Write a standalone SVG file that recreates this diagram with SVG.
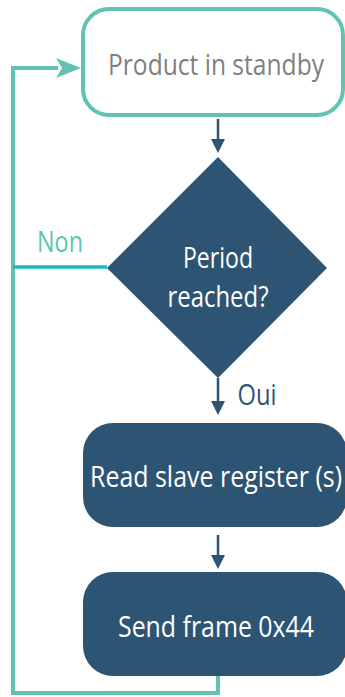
<svg xmlns="http://www.w3.org/2000/svg" width="345" height="697" viewBox="0 0 345 697">
<style>
text{font-family:"Open Sans","Liberation Sans",sans-serif;font-size:29px;text-anchor:middle}
.w{fill:#ffffff}
.dark{fill:#2e5474}
.t{stroke:#62c3b4;stroke-width:4;fill:none}
.d{stroke:#2e5474;stroke-width:2.5;fill:none}
</style>
<defs>
<marker id="ad" viewBox="0 0 10 10" refX="10" refY="5" markerWidth="5" markerHeight="5" markerUnits="userSpaceOnUse" orient="auto"><path d="M0,0 L10,5 L0,10 z" fill="#2e5474"/></marker>
</defs>
<g id="connectors">
<path class="t" d="M218,676 V693 H13 V68 H58"/>
<path d="M56,58 L81,68 L56,78 L62,68 z" fill="#62c3b4"/>
<path d="M13,267 H107" stroke="#13bcc0" stroke-width="3.5" fill="none"/>
<path class="d" d="M218,119 V140"/>
<path d="M211,139 L218,153 L225,139 z" fill="#2e5474"/>
<path class="d" d="M218,378 V402"/>
<path d="M211,401 L218,415 L225,401 z" fill="#2e5474"/>
<path class="d" d="M218,535 V556"/>
<path d="M211,555 L218,569 L225,555 z" fill="#2e5474"/>
<text x="60" y="252" fill="#5cc4b4" textLength="46" lengthAdjust="spacingAndGlyphs">Non</text>
<text x="257" y="405" class="dark" textLength="39" lengthAdjust="spacingAndGlyphs">Oui</text>
</g>
<g id="standby">
<rect x="83" y="9" width="260" height="106" rx="26" fill="#fff" stroke="#62c3b4" stroke-width="4"/>
<text x="216" y="75" fill="#808080" textLength="216" lengthAdjust="spacingAndGlyphs">Product in standby</text>
</g>
<g id="decision">
<path d="M218,157 L327,268 L218,378 L107,268 z" fill="#2e5474"/>
<text x="218" y="268" class="w" textLength="70" lengthAdjust="spacingAndGlyphs">Period</text>
<text x="218" y="307" class="w" textLength="101" lengthAdjust="spacingAndGlyphs">reached?</text>
</g>
<g id="read">
<rect x="83" y="423" width="264" height="104" rx="30" fill="#2e5474"/>
<text x="216" y="487" class="w" textLength="252" lengthAdjust="spacingAndGlyphs">Read slave register (s)</text>
</g>
<g id="send">
<rect x="83" y="572" width="264" height="104" rx="30" fill="#2e5474"/>
<text x="216" y="637" class="w" textLength="196" lengthAdjust="spacingAndGlyphs">Send frame 0x44</text>
</g>
</svg>
